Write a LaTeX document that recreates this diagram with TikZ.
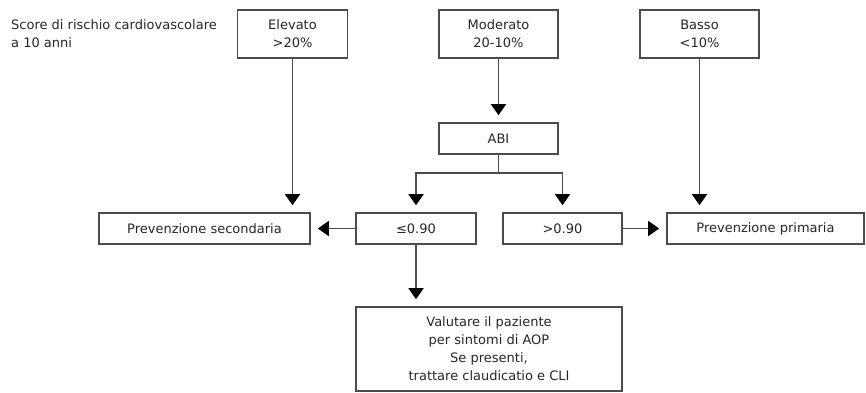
\documentclass[tikz,border=0pt]{standalone}
\usepackage{fontspec}
\setmainfont{DejaVu Sans}
\usetikzlibrary{positioning, arrows.meta, calc}

\begin{document}
\begin{tikzpicture}[x=1pt, y=-1pt,
		myline/.style={draw=black!70, line width=1.6pt},
		box/.style={myline, rectangle, inner sep=2pt, align=center, text=black!85, font=\fontsize{13}{18}\selectfont},
		arr/.style={myline, -{Triangle[width=15pt, length=11pt, color=black]}, shorten >=7pt}]
		
		\useasboundingbox (0,0) rectangle (866,392);
		
		% risk classes
		\node[anchor=west, align=left, inner sep=0pt, text=black!85, font=\fontsize{13}{18}\selectfont] at (11,34) (score) {Score di rischio cardiovascolare\\a 10 anni};
		\node[box, minimum width=110pt, minimum height=48pt] at (292.5,34) (elev) {Elevato\\>20\%};
		\node[box, minimum width=119pt, minimum height=48pt] at (498.5,34) (mod) {Moderato\\20-10\%};
		\node[box, minimum width=119pt, minimum height=48pt] at (699.5,34) (basso) {Basso\\<10\%};
		
		\node[box, minimum width=119pt, minimum height=31pt] at (498.5,138.5) (abi) {ABI};
		
		\node[box, minimum width=211pt, minimum height=31pt] at (204.5,228.5) (prevsec) {Prevenzione secondaria};
		\node[box, minimum width=120pt, minimum height=31pt] at (416,228.5) (le) {≤0.90};
		\node[box, minimum width=119pt, minimum height=31pt] at (562.5,228.5) (gt) {>0.90};
		\node[box, minimum width=197pt, minimum height=31pt] at (765.5,228.5) (prevprim) {Prevenzione primaria};
		
		\node[box, minimum width=266pt, minimum height=84pt] at (489,349) (valuta) {Valutare il paziente\\per sintomi di AOP\\Se presenti,\\trattare claudicatio e CLI};
		
		\draw[arr] (elev.south) -- (elev.south |- prevsec.north);
		\draw[arr] (basso.south) -- (basso.south |- prevprim.north);
		\draw[arr] (mod) -- (abi);
		
		\draw[myline] (abi.south) -- ++(0,18) coordinate (split);
		\draw[arr] (split) -| (le.north);
		\draw[arr] (split) -| (gt.north);
		
		\draw[arr] (le.west) -- (prevsec.east);
		\draw[arr] (gt.east) -- (prevprim.west);
		\draw[arr] (le.south) -- (le.south |- valuta.north);
	\end{tikzpicture}
\end{document}
